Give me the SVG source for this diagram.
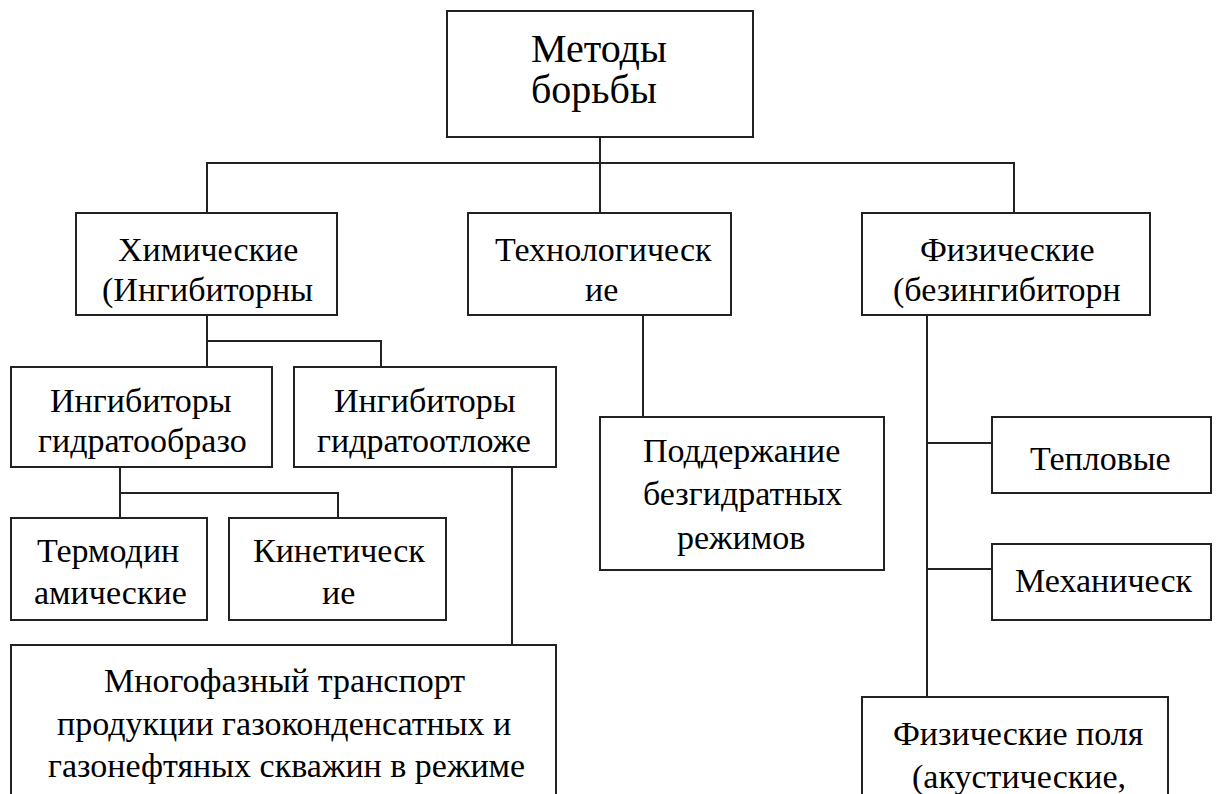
<svg xmlns="http://www.w3.org/2000/svg" width="1216" height="794" viewBox="0 0 1216 794">
<rect width="1216" height="794" fill="#fff"/>
<g id="connectors" fill="none" stroke="#222" stroke-width="2">
<path d="M600 137V213M207 213V163H1014V213"/>
<path d="M207 315V367M207 341H381V367"/>
<path d="M120 467V518M120 493H338V518"/>
<path d="M512 467V645"/>
<path d="M643 315V417"/>
<path d="M927 315V697M927 443H992M927 569H992"/>
</g>
<g id="n-root"><rect x="447" y="11" width="306" height="126" fill="#fff" stroke="#222" stroke-width="2"/>
<text x="531" y="62" font-family="Liberation Serif" font-size="40">Методы</text>
<text x="531" y="103" font-family="Liberation Serif" font-size="40">борьбы</text></g>
<g id="n-chem"><rect x="76" y="213" width="261" height="102" fill="#fff" stroke="#222" stroke-width="2"/>
<text x="118" y="261" font-family="Liberation Serif" font-size="34">Химические</text>
<text x="102" y="301" font-family="Liberation Serif" font-size="34">(Ингибиторны</text></g>
<g id="n-tech"><rect x="468" y="213" width="263" height="102" fill="#fff" stroke="#222" stroke-width="2"/>
<text x="495" y="261" font-family="Liberation Serif" font-size="34">Технологическ</text>
<text x="585" y="301" font-family="Liberation Serif" font-size="34">ие</text></g>
<g id="n-phys"><rect x="862" y="213" width="288" height="102" fill="#fff" stroke="#222" stroke-width="2"/>
<text x="920" y="261" font-family="Liberation Serif" font-size="34">Физические</text>
<text x="893" y="301" font-family="Liberation Serif" font-size="34">(безингибиторн</text></g>
<g id="n-inh1"><rect x="11" y="367" width="261" height="100" fill="#fff" stroke="#222" stroke-width="2"/>
<text x="50" y="412" font-family="Liberation Serif" font-size="34">Ингибиторы</text>
<text x="38" y="452" font-family="Liberation Serif" font-size="34">гидратообразо</text></g>
<g id="n-inh2"><rect x="294" y="367" width="262" height="100" fill="#fff" stroke="#222" stroke-width="2"/>
<text x="334" y="412" font-family="Liberation Serif" font-size="34">Ингибиторы</text>
<text x="317" y="452" font-family="Liberation Serif" font-size="34">гидратоотложе</text></g>
<g id="n-thermo"><rect x="11" y="518" width="196" height="102" fill="#fff" stroke="#222" stroke-width="2"/>
<text x="37" y="562" font-family="Liberation Serif" font-size="34">Термодин</text>
<text x="34" y="604" font-family="Liberation Serif" font-size="34">амические</text></g>
<g id="n-kin"><rect x="229" y="518" width="217" height="102" fill="#fff" stroke="#222" stroke-width="2"/>
<text x="253" y="562" font-family="Liberation Serif" font-size="34">Кинетическ</text>
<text x="322" y="604" font-family="Liberation Serif" font-size="34">ие</text></g>
<g id="n-multi"><rect x="11" y="645" width="545" height="160" fill="#fff" stroke="#222" stroke-width="2"/>
<text x="104" y="692" font-family="Liberation Serif" font-size="34">Многофазный транспорт</text>
<text x="57" y="735" font-family="Liberation Serif" font-size="34">продукции газоконденсатных и</text>
<text x="48" y="777" font-family="Liberation Serif" font-size="34">газонефтяных скважин в режиме</text></g>
<g id="n-support"><rect x="600" y="417" width="284" height="153" fill="#fff" stroke="#222" stroke-width="2"/>
<text x="643" y="462" font-family="Liberation Serif" font-size="34">Поддержание</text>
<text x="643" y="505" font-family="Liberation Serif" font-size="34">безгидратных</text>
<text x="677" y="549" font-family="Liberation Serif" font-size="34">режимов</text></g>
<g id="n-heat"><rect x="992" y="417" width="219" height="76" fill="#fff" stroke="#222" stroke-width="2"/>
<text x="1030" y="470" font-family="Liberation Serif" font-size="34">Тепловые</text></g>
<g id="n-mech"><rect x="992" y="544" width="219" height="76" fill="#fff" stroke="#222" stroke-width="2"/>
<text x="1015" y="592" font-family="Liberation Serif" font-size="34">Механическ</text></g>
<g id="n-fields"><rect x="862" y="697" width="306" height="110" fill="#fff" stroke="#222" stroke-width="2"/>
<text x="893" y="745" font-family="Liberation Serif" font-size="34">Физические поля</text>
<text x="912" y="788" font-family="Liberation Serif" font-size="34">(акустические,</text></g>
</svg>
